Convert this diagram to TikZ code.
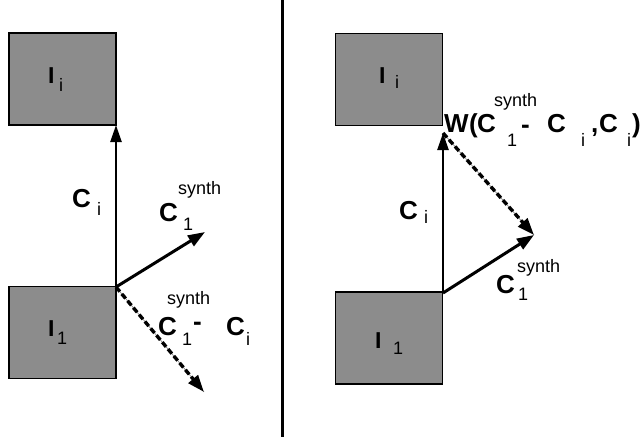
\documentclass[tikz,border=0pt]{standalone}
\usepackage{fontspec}
\setmainfont{Liberation Sans}
\usetikzlibrary{arrows.meta}
\tikzset{
  box/.style={draw=black, line width=1.8pt, fill=black!45, inner sep=0, minimum width=107pt, minimum height=92pt},
  big/.style={font=\fontsize{26}{26}\selectfont\bfseries, inner sep=0, anchor=base west},
  boxI/.style={font=\fontsize{23}{23}\selectfont\bfseries, inner sep=0, anchor=base west},
  subsc/.style={font=\fontsize{18}{18}\selectfont, inner sep=0, anchor=base west},
  supsc/.style={font=\fontsize{18}{18}\selectfont, inner sep=0, anchor=base west},
  vec/.style={line width=3pt, -{Triangle[length=17pt,width=12pt]}},
  vvec/.style={line width=2.4pt, -{Triangle[length=17pt,width=11pt]}},
  dvec/.style={line width=3.4pt, dash pattern=on 6pt off 3pt, -{Triangle[length=17pt,width=12pt]}},
  guide/.style={line width=0.7pt, black!45},
}
\begin{document}
\begin{tikzpicture}[x=1pt,y=-1pt]
\useasboundingbox (0,0) rectangle (641,437);
% divider
\coordinate (dtop) at (282,0);
\coordinate (dbot) at (282,437);
\draw[line width=3pt] (dtop) -- (dbot);

% ---------- left ----------
\node[box] (lii) at (62.5,79) {};
\node[box] (li1) at (62.5,332.5) {};
\node[boxI] (liiI) at (48,83) {I};
\node[subsc] (liiS) at (59,91) {i};
\node[boxI] (li1I) at (48,336) {I};
\node[subsc] (li1S) at (57,344) {1};

\coordinate (lo) at (116,287);
\coordinate (ltop) at (116,125);
\coordinate (lsyn) at (205,232);
\coordinate (ldif) at (204,392);
\draw[vvec] (lo) -- (ltop);
\draw[vec] (lo) -- (lsyn);
\draw[guide] (lo) -- (ldif);
\draw[dvec] (lo) -- (ldif);

\node[big] (lciC) at (72,207) {C};
\node[subsc] (lciS) at (97,215) {i};
\node[big] (lcsC) at (159,221) {C};
\node[subsc] (lcs1) at (183,230) {1};
\node[supsc] (lcsS) at (178,194) {synth};
\node[supsc] (ldS) at (167,304) {synth};
\node[big] (ldC) at (158,335) {C};
\node[subsc] (ld1) at (182,345) {1};
\node[big] (ldm) at (193,330) {-};
\node[big] (ldC2) at (226,335) {C};
\node[subsc] (ldi) at (246,345) {i};

% ---------- right ----------
\node[box] (rii) at (389,79.5) {};
\node[box] (ri1) at (389,338) {};
\node[boxI] (riiI) at (379,83) {I};
\node[subsc] (riiS) at (395,88) {i};
\node[boxI] (ri1I) at (375,348) {I};
\node[subsc] (ri1S) at (393,354) {1};

\coordinate (ro) at (443,293);
\coordinate (rtop) at (443,133);
\coordinate (rsyn) at (534,235);
\draw[vvec] (ro) -- (rtop);
\draw[vec] (ro) -- (rsyn);
\draw[guide] (rtop) -- (rsyn);
\draw[dvec] (rtop) -- (rsyn);

\node[big] (rciC) at (399,219) {C};
\node[subsc] (rciS) at (424,223) {i};
\node[big] (rcsC) at (496,293) {C};
\node[subsc] (rcs1) at (518,300) {1};
\node[supsc] (rcsS) at (517,272) {synth};

\node[big] (rwW) at (444,132) {W};
\node[big] (rwP) at (469,132) {(};
\node[big] (rwC1) at (477,132) {C};
\node[supsc] (rwS) at (494,106) {synth};
\node[subsc] (rw1) at (507,146) {1};
\node[big] (rwm) at (521,133) {-};
\node[big] (rwC) at (547,132) {C};
\node[subsc] (rwi) at (581,146) {i};
\node[big] (rwc) at (591,132) {,};
\node[big] (rwC2) at (599,132) {C};
\node[subsc] (rwi2) at (627,146) {i};
\node[big] (rwp) at (632,132) {)};
\end{tikzpicture}
\end{document}
